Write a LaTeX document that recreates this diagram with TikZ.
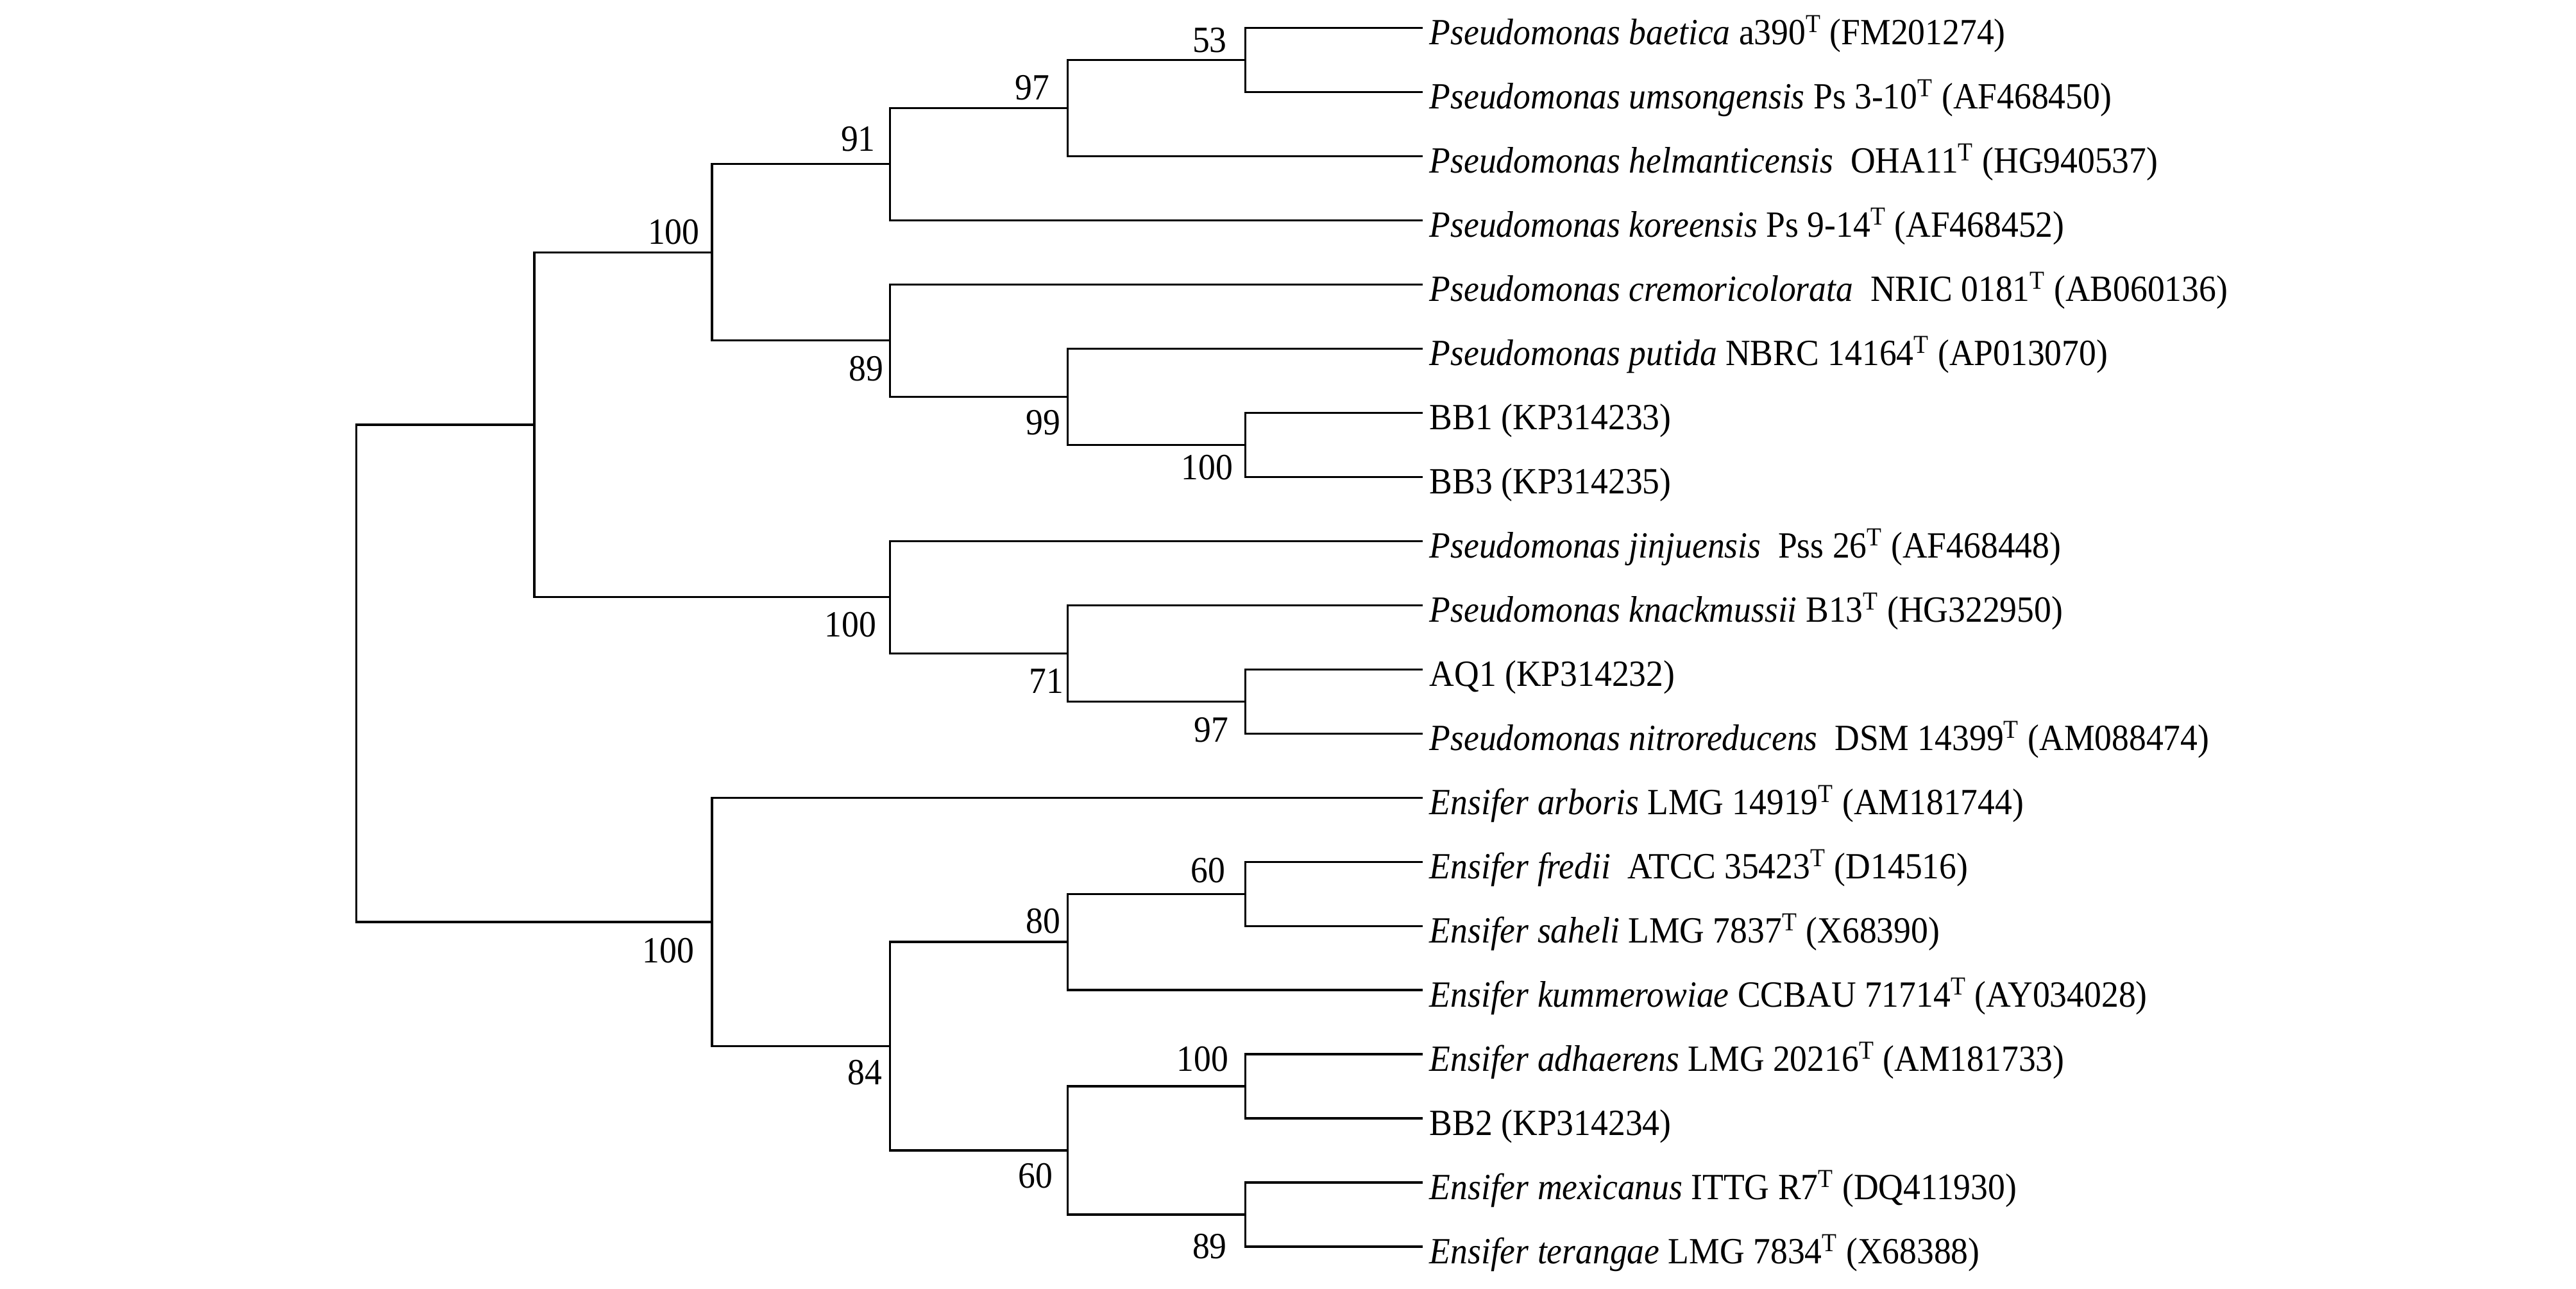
\documentclass[tikz,border=0pt]{standalone}
\usepackage{fontspec}
\setmainfont{Liberation Serif}[FakeStretch=0.93]
\begin{document}
\begin{tikzpicture}[x=1pt,y=-1pt,
  branch/.style={line width=1.3pt,line join=miter},
  leaf/.style={anchor=base west,inner sep=0pt,font=\fontsize{22.5}{27}\selectfont},
  boot/.style={anchor=base east,inner sep=0pt,font=\fontsize{22.5}{27}\selectfont}]
\useasboundingbox[fill=white] (0,0) rectangle (1568,784);
% leaf ends
\coordinate (l1) at (866,16.9);
\coordinate (l2) at (866,55.94);
\coordinate (l3) at (866,94.98);
\coordinate (l4) at (866,134.02);
\coordinate (l5) at (866,173.06);
\coordinate (l6) at (866,212.10);
\coordinate (l7) at (866,251.14);
\coordinate (l8) at (866,290.18);
\coordinate (l9) at (866,329.22);
\coordinate (l10) at (866,368.26);
\coordinate (l11) at (866,407.30);
\coordinate (l12) at (866,446.34);
\coordinate (l13) at (866,485.38);
\coordinate (l14) at (866,524.42);
\coordinate (l15) at (866,563.46);
\coordinate (l16) at (866,602.50);
\coordinate (l17) at (866,641.54);
\coordinate (l18) at (866,680.58);
\coordinate (l19) at (866,719.62);
\coordinate (l20) at (866,758.66);
% internal nodes
\coordinate (D) at (758,36.42);
\coordinate (C) at (649.8,65.70);
\coordinate (B) at (541.6,99.86);
\coordinate (G) at (758,270.66);
\coordinate (F) at (649.8,241.38);
\coordinate (E) at (541.6,207.22);
\coordinate (A) at (433.4,153.54);
\coordinate (J) at (758,426.82);
\coordinate (I) at (649.8,397.54);
\coordinate (H) at (541.6,363.38);
\coordinate (U) at (325.2,258.46);
\coordinate (N) at (758,543.94);
\coordinate (M) at (649.8,573.22);
\coordinate (P) at (758,661.06);
\coordinate (Q) at (758,739.14);
\coordinate (O) at (649.8,700.10);
\coordinate (L) at (541.6,636.66);
\coordinate (K) at (433.4,561.02);
\coordinate (R) at (217,409.74);
% branches
\draw[branch] (R) |- (U); \draw[branch] (R) |- (K);
\draw[branch] (U) |- (A); \draw[branch] (U) |- (H);
\draw[branch] (A) |- (B); \draw[branch] (A) |- (E);
\draw[branch] (B) |- (C); \draw[branch] (B) |- (l4);
\draw[branch] (C) |- (D); \draw[branch] (C) |- (l3);
\draw[branch] (D) |- (l1); \draw[branch] (D) |- (l2);
\draw[branch] (E) |- (l5); \draw[branch] (E) |- (F);
\draw[branch] (F) |- (l6); \draw[branch] (F) |- (G);
\draw[branch] (G) |- (l7); \draw[branch] (G) |- (l8);
\draw[branch] (H) |- (l9); \draw[branch] (H) |- (I);
\draw[branch] (I) |- (l10); \draw[branch] (I) |- (J);
\draw[branch] (J) |- (l11); \draw[branch] (J) |- (l12);
\draw[branch] (K) |- (l13); \draw[branch] (K) |- (L);
\draw[branch] (L) |- (M); \draw[branch] (L) |- (O);
\draw[branch] (M) |- (N); \draw[branch] (M) |- (l16);
\draw[branch] (N) |- (l14); \draw[branch] (N) |- (l15);
\draw[branch] (O) |- (P); \draw[branch] (O) |- (Q);
\draw[branch] (P) |- (l17); \draw[branch] (P) |- (l18);
\draw[branch] (Q) |- (l19); \draw[branch] (Q) |- (l20);
% bootstrap values
\node[boot] (bD) at (747,32) {53};
\node[boot] (bC) at (639,60.8) {97};
\node[boot] (bB) at (533,91.8) {91};
\node[boot] (bA) at (426,148.4) {100};
\node[boot] (bE) at (538,231.6) {89};
\node[boot] (bF) at (645.6,264.6) {99};
\node[boot] (bG) at (750.6,292) {100};
\node[boot] (bH) at (533.5,387.7) {100};
\node[boot] (bI) at (647.5,421.7) {71};
\node[boot] (bJ) at (748,451.4) {97};
\node[boot] (bK) at (422.8,585.7) {100};
\node[boot] (bL) at (537,660) {84};
\node[boot] (bM) at (645.6,568) {80};
\node[boot] (bN) at (746,537) {60};
\node[boot] (bP) at (748,652) {100};
\node[boot] (bO) at (641,722.8) {60};
\node[boot] (bQ) at (747,766) {89};
% leaf labels
\node[leaf] (t1) at (870,27.3) {\textit{Pseudomonas baetica} a390\textsuperscript{T} (FM201274)};
\node[leaf] (t2) at (870,66.34) {\textit{Pseudomonas umsongensis} Ps 3-10\textsuperscript{T} (AF468450)};
\node[leaf] (t3) at (870,105.38) {\textit{Pseudomonas helmanticensis}\ \ OHA11\textsuperscript{T} (HG940537)};
\node[leaf] (t4) at (870,144.42) {\textit{Pseudomonas koreensis} Ps 9-14\textsuperscript{T} (AF468452)};
\node[leaf] (t5) at (870,183.46) {\textit{Pseudomonas cremoricolorata}\ \ NRIC 0181\textsuperscript{T} (AB060136)};
\node[leaf] (t6) at (870,222.50) {\textit{Pseudomonas putida} NBRC 14164\textsuperscript{T} (AP013070)};
\node[leaf] (t7) at (870,261.54) {BB1 (KP314233)};
\node[leaf] (t8) at (870,300.58) {BB3 (KP314235)};
\node[leaf] (t9) at (870,339.62) {\textit{Pseudomonas jinjuensis}\ \ Pss 26\textsuperscript{T} (AF468448)};
\node[leaf] (t10) at (870,378.66) {\textit{Pseudomonas knackmussii} B13\textsuperscript{T} (HG322950)};
\node[leaf] (t11) at (870,417.70) {AQ1 (KP314232)};
\node[leaf] (t12) at (870,456.74) {\textit{Pseudomonas nitroreducens}\ \ DSM 14399\textsuperscript{T} (AM088474)};
\node[leaf] (t13) at (870,495.78) {\textit{Ensifer arboris} LMG 14919\textsuperscript{T} (AM181744)};
\node[leaf] (t14) at (870,534.82) {\textit{Ensifer fredii}\ \ ATCC 35423\textsuperscript{T} (D14516)};
\node[leaf] (t15) at (870,573.86) {\textit{Ensifer saheli} LMG 7837\textsuperscript{T} (X68390)};
\node[leaf] (t16) at (870,612.90) {\textit{Ensifer kummerowiae} CCBAU 71714\textsuperscript{T} (AY034028)};
\node[leaf] (t17) at (870,651.94) {\textit{Ensifer adhaerens} LMG 20216\textsuperscript{T} (AM181733)};
\node[leaf] (t18) at (870,690.98) {BB2 (KP314234)};
\node[leaf] (t19) at (870,730.02) {\textit{Ensifer mexicanus} ITTG R7\textsuperscript{T} (DQ411930)};
\node[leaf] (t20) at (870,769.06) {\textit{Ensifer terangae} LMG 7834\textsuperscript{T} (X68388)};
\end{tikzpicture}
\end{document}
